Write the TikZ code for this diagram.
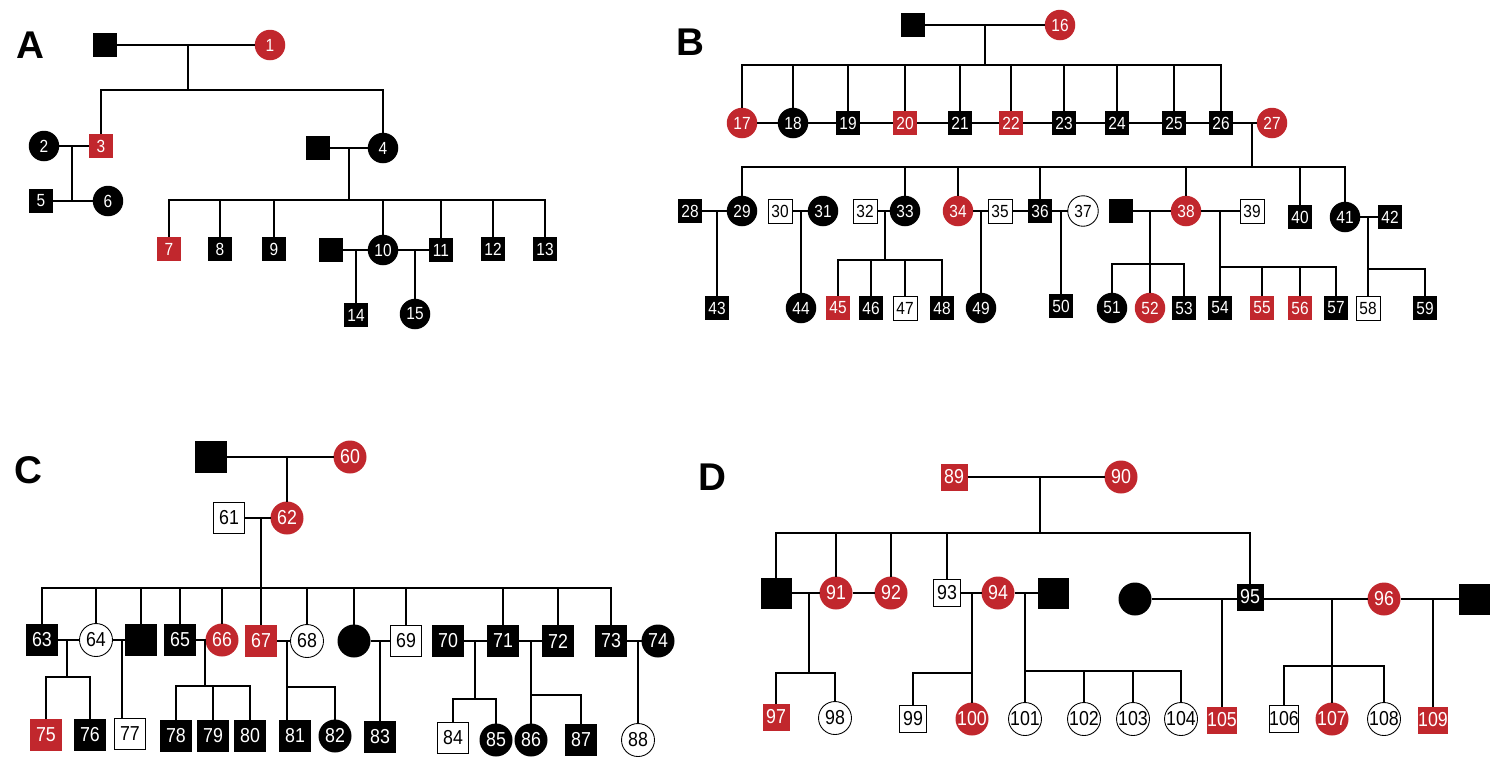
\documentclass[tikz,border=0pt]{standalone}
\usepackage{fontspec}
\setmainfont{Liberation Sans}[FakeStretch=0.88]
\newfontfamily\labfont{Liberation Sans}
\usetikzlibrary{calc}
\definecolor{pedred}{HTML}{C1272D}

\tikzset{
  pers/.style={inner sep=0pt, outer sep=0pt, font=\fontsize{10}{10}\selectfont, text=white},
  sq/.style={pers, rectangle, minimum size=0.48cm},
  ci/.style={pers, circle, minimum size=0.61cm},
  big/.style={minimum size=0.62cm},
  blk/.style={fill=black},
  redf/.style={fill=pedred},
  wht/.style={draw=black, line width=0.5pt, fill=white, text=black},
  link/.style={line width=0.7pt},
  panel/.style={font=\labfont\bfseries\fontsize{22}{22}\selectfont}
}

\begin{document}
\begin{tikzpicture}[x=0.02cm, y=-0.02cm]
\useasboundingbox (0,0) rectangle (1500,769);

% ---- A
\node[panel] (labA) at (30,45) {A};
\node[sq,blk] (uA1) at (105,45) {};
\node[ci,redf] (p1) at (270,45) {1};
\node[ci,blk] (p2) at (44,146) {2};
\node[sq,redf] (p3) at (101,146) {3};
\node[sq,blk] (uA2) at (318,148) {};
\node[ci,blk] (p4) at (383,148) {4};
\node[sq,blk] (p5) at (41,201) {5};
\node[ci,blk] (p6) at (108,201) {6};
\node[sq,redf] (p7) at (169,249) {7};
\node[sq,blk] (p8) at (220,249) {8};
\node[sq,blk] (p9) at (274,249) {9};
\node[sq,blk] (uA3) at (331,250) {};
\node[ci,blk] (p10) at (383,250) {10};
\node[sq,blk] (p11) at (441,250) {11};
\node[sq,blk] (p12) at (493,249) {12};
\node[sq,blk] (p13) at (545,249) {13};
\node[sq,blk] (p14) at (356,315) {14};
\node[ci,blk] (p15) at (415,314) {15};
\coordinate (mA1) at (188,45);  \coordinate (sA1) at (188,90);
\coordinate (mA2) at (72,146);  \coordinate (sA2) at (72,201);
\coordinate (mA3) at (349,148); \coordinate (sA3) at (349,200);
\coordinate (mA4) at (356,250); \coordinate (mA5) at (415,250);
\draw[link] (uA1) -- (p1) (mA1) -- (sA1) (sA1) -| (p3) (sA1) -| (p4);
\draw[link] (p2) -- (p3) (mA2) -- (sA2) (p5) -- (p6);
\draw[link] (uA2) -- (p4) (mA3) -- (sA3);
\foreach \c in {p7,p8,p9,p10,p11,p12,p13} \draw[link] (sA3) -| (\c);
\draw[link] (uA3) -- (p10) (mA4) -- (p14) (p10) -- (p11) (mA5) -- (p15);

% ---- B
\node[panel] (labB) at (690,42) {B};
\node[sq,blk] (uB1) at (913,25) {};
\node[ci,redf] (p16) at (1060,25) {16};
\node[ci,redf] (p17) at (742,123) {17};
\node[ci,blk] (p18) at (793,123) {18};
\node[sq,blk] (p19) at (848,123) {19};
\node[sq,redf] (p20) at (905,123) {20};
\node[sq,blk] (p21) at (960,123) {21};
\node[sq,redf] (p22) at (1011,123) {22};
\node[sq,blk] (p23) at (1064,123) {23};
\node[sq,blk] (p24) at (1117,123) {24};
\node[sq,blk] (p25) at (1174,123) {25};
\node[sq,blk] (p26) at (1221,123) {26};
\node[ci,redf] (p27) at (1272,123) {27};
\node[sq,blk] (p28) at (690,211) {28};
\node[ci,blk] (p29) at (742,211) {29};
\node[sq,wht] (p30) at (780,211) {30};
\node[ci,blk] (p31) at (823,211) {31};
\node[sq,wht] (p32) at (865,211) {32};
\node[ci,blk] (p33) at (905,211) {33};
\node[ci,redf] (p34) at (958,211) {34};
\node[sq,wht] (p35) at (1000,211) {35};
\node[sq,blk] (p36) at (1040,211) {36};
\node[ci,wht] (p37) at (1083,211) {37};
\node[sq,blk] (uB2) at (1121,211) {};
\node[ci,redf] (p38) at (1186,211) {38};
\node[sq,wht] (p39) at (1252,211) {39};
\node[sq,blk] (p40) at (1300,217) {40};
\node[ci,blk] (p41) at (1345,217) {41};
\node[sq,blk] (p42) at (1390,217) {42};
\node[sq,blk] (p43) at (717,308) {43};
\node[ci,blk] (p44) at (801,308) {44};
\node[sq,redf] (p45) at (838,308) {45};
\node[sq,blk] (p46) at (871,308) {46};
\node[sq,wht] (p47) at (905,308) {47};
\node[sq,blk] (p48) at (942,308) {48};
\node[ci,blk] (p49) at (981,308) {49};
\node[sq,blk] (p50) at (1061,306) {50};
\node[ci,blk] (p51) at (1112,308) {51};
\node[ci,redf] (p52) at (1150,308) {52};
\node[sq,blk] (p53) at (1184,308) {53};
\node[sq,blk] (p54) at (1220,308) {54};
\node[sq,redf] (p55) at (1262,308) {55};
\node[sq,redf] (p56) at (1300,308) {56};
\node[sq,blk] (p57) at (1336,308) {57};
\node[sq,wht] (p58) at (1368,308) {58};
\node[sq,blk] (p59) at (1425,308) {59};
\coordinate (mB1) at (985,25);   \coordinate (sB1) at (985,65);
\coordinate (mB2) at (1252,123); \coordinate (sB2) at (1252,167);
\coordinate (mB3) at (717,211);  \coordinate (mB4) at (801,211);
\coordinate (mB5) at (885,211);  \coordinate (sB5) at (885,260);
\coordinate (mB6) at (981,211);  \coordinate (mB7) at (1061,211);
\coordinate (mB8) at (1150,211); \coordinate (sB8) at (1150,264);
\coordinate (mB9) at (1220,211); \coordinate (sB9) at (1220,267);
\coordinate (mB10) at (1368,217); \coordinate (sB10) at (1368,269);
\draw[link] (uB1) -- (p16) (mB1) -- (sB1);
\foreach \c in {17,...,26} \draw[link] (sB1) -| (p\c);
\foreach \a/\b in {17/18,18/19,19/20,20/21,21/22,22/23,23/24,24/25,25/26,26/27}
  \draw[link] (p\a) -- (p\b);
\draw[link] (mB2) -- (sB2);
\foreach \c in {29,33,34,36,38,40,41} \draw[link] (sB2) -| (p\c);
\draw[link] (p28) -- (p29) (mB3) -- (p43);
\draw[link] (p30) -- (p31) (mB4) -- (p44);
\draw[link] (p32) -- (p33) (mB5) -- (sB5);
\foreach \c in {45,46,47,48} \draw[link] (sB5) -| (p\c);
\draw[link] (p34) -- (p35) (mB6) -- (p49) (p35) -- (p36);
\draw[link] (p36) -- (p37) (mB7) -- (p50);
\draw[link] (uB2) -- (p38) (mB8) -- (sB8);
\foreach \c in {51,52,53} \draw[link] (sB8) -| (p\c);
\draw[link] (p38) -- (p39) (mB9) -- (sB9);
\foreach \c in {54,55,56,57} \draw[link] (sB9) -| (p\c);
\draw[link] (p41) -- (p42) (mB10) -- (sB10);
\foreach \c in {58,59} \draw[link] (sB10) -| (p\c);

% ---- C
\begin{scope}[pers/.append style={font=\fontsize{11.5}{11.5}\selectfont},
  sq/.append style={minimum size=0.63cm}, ci/.append style={minimum size=0.66cm}]
\node[panel] (labC) at (28,470) {C};
\node[sq,blk] (uC1) at (211,457) {};
\node[ci,redf] (p60) at (350,457) {60};
\node[sq,wht] (p61) at (229,518) {61};
\node[ci,redf] (p62) at (287,518) {62};
\node[sq,blk] (p63) at (42,640) {63};
\node[ci,wht] (p64) at (96,640) {64};
\node[sq,blk] (uC2) at (141,640) {};
\node[sq,blk] (p65) at (180,640) {65};
\node[ci,redf] (p66) at (222,640) {66};
\node[sq,redf] (p67) at (261,641) {67};
\node[ci,wht] (p68) at (307,641) {68};
\node[ci,blk] (uC3) at (354,641) {};
\node[sq,wht] (p69) at (406,641) {69};
\node[sq,blk] (p70) at (448,641) {70};
\node[sq,blk] (p71) at (503,641) {71};
\node[sq,blk] (p72) at (558,641) {72};
\node[sq,blk] (p73) at (611,641) {73};
\node[ci,blk] (p74) at (658,641) {74};
\node[sq,redf] (p75) at (46,735) {75};
\node[sq,blk] (p76) at (90,735) {76};
\node[sq,wht] (p77) at (130,734) {77};
\node[sq,blk] (p78) at (176,736) {78};
\node[sq,blk] (p79) at (213,736) {79};
\node[sq,blk] (p80) at (250,736) {80};
\node[sq,blk] (p81) at (295,736) {81};
\node[ci,blk] (p82) at (335,736) {82};
\node[sq,blk] (p83) at (380,737) {83};
\node[sq,wht] (p84) at (453,738) {84};
\node[ci,blk] (p85) at (496,740) {85};
\node[ci,blk] (p86) at (531,740) {86};
\node[sq,blk] (p87) at (581,740) {87};
\node[ci,wht] (p88) at (638,740) {88};
\end{scope}
\coordinate (mC1) at (287,457);
\coordinate (mC2) at (261,518); \coordinate (sC2) at (261,588);
\coordinate (mC3) at (67,640);  \coordinate (sC3) at (67,677);
\coordinate (mC4) at (122,640);
\coordinate (mC5) at (205,640); \coordinate (sC5) at (205,686);
\coordinate (mC6) at (287,641); \coordinate (sC6) at (287,687);
\coordinate (mC7) at (380,641);
\coordinate (mC8) at (475,641); \coordinate (sC8) at (475,699);
\coordinate (mC9) at (531,641); \coordinate (sC9) at (531,695);
\coordinate (mC10) at (638,641);
\draw[link] (uC1) -- (p60) (mC1) -- (p62) (p61) -- (p62) (mC2) -- (sC2);
\foreach \c in {p63,p64,uC2,p65,p66,p67,p68,uC3,p69,p71,p72,p73} \draw[link] (sC2) -| (\c);
\draw[link] (p63) -- (p64) (mC3) -- (sC3) (sC3) -| (p75) (sC3) -| (p76);
\draw[link] (p64) -- (uC2) (mC4) -- (mC4 |- p77.north);
\draw[link] (p65) -- (p66) (mC5) -- (sC5);
\foreach \c in {78,79,80} \draw[link] (sC5) -| (p\c);
\draw[link] (p67) -- (p68) (mC6) -- (mC6 |- p81.north) (sC6) -| (p82);
\draw[link] (uC3) -- (p69) (mC7) -- (p83);
\draw[link] (p70) -- (p71) (mC8) -- (sC8) (sC8) -| (p84) (sC8) -| (p85);
\draw[link] (p71) -- (p72) (mC9) -- (sC9) (sC9) -| (p86) (sC9) -| (p87);
\draw[link] (p73) -- (p74) (mC10) -- (p88);

% ---- D
\begin{scope}[pers/.append style={font=\fontsize{11.5}{11.5}\selectfont},
  sq/.append style={minimum size=0.54cm}, ci/.append style={minimum size=0.66cm}]
\node[panel] (labD) at (712,477) {D};
\node[sq,redf] (p89) at (954,477) {89};
\node[ci,redf] (p90) at (1121,477) {90};
\node[sq,blk,big] (uD1) at (776,593) {};
\node[ci,redf] (p91) at (836,593) {91};
\node[ci,redf] (p92) at (891,593) {92};
\node[sq,wht] (p93) at (947,593) {93};
\node[ci,redf] (p94) at (998,593) {94};
\node[sq,blk,big] (uD2) at (1053,593) {};
\node[ci,blk] (uD3) at (1135,599) {};
\node[sq,blk] (p95) at (1250,597) {95};
\node[ci,redf] (p96) at (1384,599) {96};
\node[sq,blk,big] (uD4) at (1474,599) {};
\node[sq,redf] (p97) at (776,717) {97};
\node[ci,wht] (p98) at (835,718) {98};
\node[sq,wht] (p99) at (913,719) {99};
\node[ci,redf] (p100) at (972,719) {100};
\node[ci,wht] (p101) at (1025,719) {101};
\node[ci,wht] (p102) at (1084,719) {102};
\node[ci,wht] (p103) at (1133,719) {103};
\node[ci,wht] (p104) at (1181,719) {104};
\node[sq,redf] (p105) at (1222,720) {105};
\node[sq,wht] (p106) at (1284,719) {106};
\node[ci,redf] (p107) at (1332,719) {107};
\node[ci,wht] (p108) at (1384,719) {108};
\node[sq,redf] (p109) at (1433,720) {109};
\end{scope}
\coordinate (mD1) at (1040,477); \coordinate (sD1) at (1040,533);
\coordinate (mD2) at (809,593);  \coordinate (sD2) at (809,673);
\coordinate (mD3) at (972,593);  \coordinate (sD3) at (972,673);
\coordinate (mD4) at (1025,593); \coordinate (sD4) at (1025,671);
\coordinate (mD5) at (1222,599);
\coordinate (mD6) at (1332,599); \coordinate (sD6) at (1332,666);
\coordinate (mD7) at (1433,599);
\draw[link] (p89) -- (p90) (mD1) -- (sD1);
\foreach \c in {uD1,p91,p92,p93,p95} \draw[link] (sD1) -| (\c);
\draw[link] (uD1) -- (p91) (p91) -- (p92) (mD2) -- (sD2) (sD2) -| (p97) (sD2) -| (p98);
\draw[link] (p93) -- (p94) (mD3) -- (sD3) (sD3) -| (p99) (sD3) -- (p100);
\draw[link] (p94) -- (uD2) (mD4) -- (sD4);
\foreach \c in {101,102,103,104} \draw[link] (sD4) -| (p\c);
\draw[link] (uD3) -- (uD3 -| p95.west) (mD5) -- (p105);
\draw[link] (p96) -- (p96 -| p95.east) (mD6) -- (sD6);
\foreach \c in {106,107,108} \draw[link] (sD6) -| (p\c);
\draw[link] (p96) -- (uD4) (mD7) -- (p109);
\end{tikzpicture}
\end{document}
